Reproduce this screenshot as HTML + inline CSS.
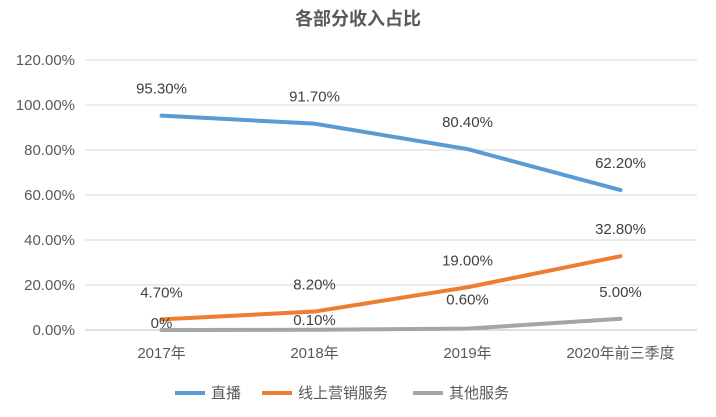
<!DOCTYPE html>
<html><head><meta charset="utf-8">
<style>
html,body{margin:0;padding:0;background:#fff;}
svg{display:block;font-family:"Liberation Sans","Noto Sans CJK SC",sans-serif;}
</style></head>
<body>
<svg id="chart" width="716" height="417" viewBox="0 0 716 417" xmlns="http://www.w3.org/2000/svg">
<text x="358" y="25" text-anchor="middle" font-size="18" font-weight="bold" fill="#595959">各部分收入占比</text>
<g id="grid"></g><g id="yticks"></g><g id="xticks"></g><g id="series"></g><g id="labels"></g>
<g>
<line x1="175" y1="393" x2="205" y2="393" stroke="#5B9BD5" stroke-width="4"/>
<text x="211" y="398" font-size="15" fill="#595959">直播</text>
<line x1="262" y1="393" x2="292" y2="393" stroke="#ED7D31" stroke-width="4"/>
<text x="298" y="398" font-size="15" fill="#595959">线上营销服务</text>
<line x1="413" y1="393" x2="443" y2="393" stroke="#A5A5A5" stroke-width="4"/>
<text x="449" y="398" font-size="15" fill="#595959">其他服务</text>
</g>
</svg>
<script>
const categories=["2017年","2018年","2019年","2020年前三季度"];
const livestream=[95.3,91.7,80.4,62.2];
const onlineMarketing=[4.7,8.2,19.0,32.8];
const otherServices=[0,0.1,0.6,5.0];
const otherLabels=["0%","0.10%","0.60%","5.00%"];
const yTicks=[0,20,40,60,80,100,120];
const NS="http://www.w3.org/2000/svg";
const y0=330,pxPer=45/20,left=85,step=153;
function y(v){return y0-v*pxPer;}
function x(i){return left+step*(i+0.5);}
function mk(tag,attrs,parent){const e=document.createElementNS(NS,tag);for(const k in attrs)e.setAttribute(k,attrs[k]);parent.appendChild(e);return e;}
const grid=document.getElementById('grid'),yt=document.getElementById('yticks'),xt=document.getElementById('xticks'),ser=document.getElementById('series'),lab=document.getElementById('labels');
yTicks.forEach(t=>{
 const l=mk('line',{x1:left,x2:left+step*4,y1:y(t),y2:y(t),stroke:t===0?'#BFBFBF':'#D9D9D9','stroke-width':1},grid);
 
 
 const tx=mk('text',{x:75,y:y(t)+5,'text-anchor':'end','font-size':15,fill:'#595959'},yt);
 tx.textContent=t.toFixed(2)+'%';
 
 
});
categories.forEach((c,i)=>{
 const tx=mk('text',{x:x(i),y:358,'text-anchor':'middle','font-size':15,fill:'#595959'},xt);
 tx.textContent=c;
 
 
});
function drawSeries(vals,color,name,labelFn,offsets){
 const p=mk('polyline',{points:vals.map((v,i)=>x(i)+','+y(v)).join(' '),fill:'none',stroke:color,'stroke-width':4,'stroke-linejoin':'round','stroke-linecap':'round'},ser);
 
 
 vals.forEach((v,i)=>{
  const t=mk('text',{x:x(i),y:y(v)-offsets[i]+5,'text-anchor':'middle','font-size':15,fill:'#404040'},lab);
  t.textContent=labelFn(v,i);
  
  
 });
}
drawSeries(livestream,'#5B9BD5','livestream',v=>v.toFixed(2)+'%',[27,27,27,27]);
drawSeries(onlineMarketing,'#ED7D31','online-marketing',v=>v.toFixed(2)+'%',[27,27,27,27]);
drawSeries(otherServices,'#A5A5A5','other-services',(v,i)=>otherLabels[i],[7,10,29,27]);
</script>
</body></html>
